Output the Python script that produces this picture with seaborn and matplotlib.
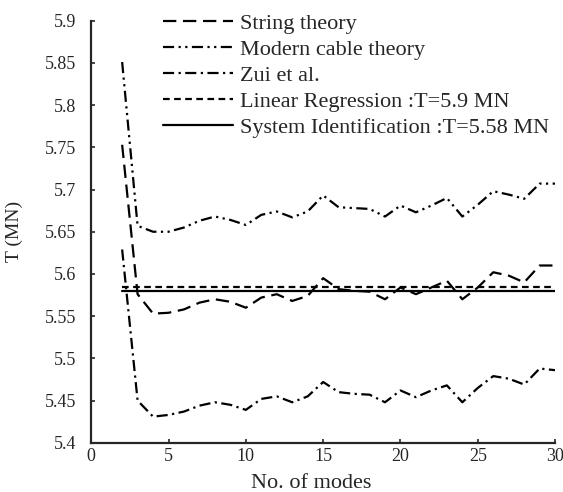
import numpy as np
import pandas as pd
import matplotlib
matplotlib.use("Agg")
import matplotlib.pyplot as plt
import seaborn as sns

# Données
modes = list(range(2, 31))
string_theory = [5.753, 5.576, 5.553, 5.554, 5.558, 5.566, 5.570, 5.567, 5.560, 5.572,
                 5.576, 5.568, 5.574, 5.595, 5.582, 5.580, 5.579, 5.570, 5.584, 5.576,
                 5.584, 5.592, 5.570, 5.584, 5.602, 5.598, 5.590, 5.610, 5.610]
modern_cable = [5.851, 5.657, 5.650, 5.650, 5.655, 5.663, 5.668, 5.664, 5.658, 5.670,
                5.674, 5.667, 5.674, 5.693, 5.679, 5.678, 5.677, 5.668, 5.681, 5.673,
                5.681, 5.690, 5.668, 5.682, 5.698, 5.694, 5.689, 5.707, 5.707]
zui = [5.629, 5.450, 5.431, 5.433, 5.437, 5.444, 5.448, 5.445, 5.439, 5.452,
       5.455, 5.448, 5.455, 5.472, 5.460, 5.458, 5.457, 5.448, 5.462, 5.454,
       5.462, 5.468, 5.448, 5.465, 5.479, 5.476, 5.469, 5.488, 5.486]
T_linreg = 5.585
T_sysid = 5.58

df = pd.DataFrame({
    "mode": modes,
    "String theory": string_theory,
    "Modern cable theory": modern_cable,
    "Zui et al.": zui,
    "Linear Regression :T=5.9 MN": np.full(len(modes), T_linreg),
    "System Identification :T=5.58 MN": np.full(len(modes), T_sysid),
})

styles = {
    "String theory": (0, (6, 3)),
    "Modern cable theory": (0, (5, 2, 1, 2, 1, 2)),
    "Zui et al.": (0, (5, 2, 1, 2)),
    "Linear Regression :T=5.9 MN": (0, (3, 2)),
    "System Identification :T=5.58 MN": "-",
}

sns.set_style("ticks")
plt.rcParams["font.family"] = ["Liberation Serif", "DejaVu Serif"]
plt.rcParams["xtick.direction"] = "in"
plt.rcParams["ytick.direction"] = "in"

fig = plt.figure(figsize=(5.63, 4.92), dpi=100)
ax = fig.add_axes([0.162, 0.10, 0.824, 0.858])

for col, ls in styles.items():
    sns.lineplot(data=df, x="mode", y=col, ax=ax, color="black",
                 linewidth=1.6, linestyle=ls, label=col)

ax.set_xlim(0, 30)
ax.set_ylim(5.4, 5.9)
ax.set_xticks(range(0, 31, 5))
ax.set_yticks(np.arange(5.4, 5.901, 0.05))
ax.set_yticklabels(["5.4", "5.45", "5.5", "5.55", "5.6", "5.65", "5.7",
                    "5.75", "5.8", "5.85", "5.9"])
ax.tick_params(labelsize=13, length=3, width=1.2)
ax.tick_params(axis="y", pad=11)
ax.tick_params(axis="x", pad=4)
for s in ["left", "bottom"]:
    ax.spines[s].set_linewidth(1.6)
sns.despine(ax=ax)

ax.set_xlabel("No. of modes", fontsize=16)
ax.set_ylabel("T (MN)", fontsize=14)
ax.xaxis.set_label_coords(0.475, -0.075)
ax.yaxis.set_label_coords(-0.147, 0.50)

ax.legend(loc="upper left", bbox_to_anchor=(0.155, 1.018), frameon=False,
          borderaxespad=0, borderpad=0,
          fontsize=16, handlelength=3.15, handletextpad=0.3, labelspacing=0.25)

fig.savefig("out.png", dpi=100)
